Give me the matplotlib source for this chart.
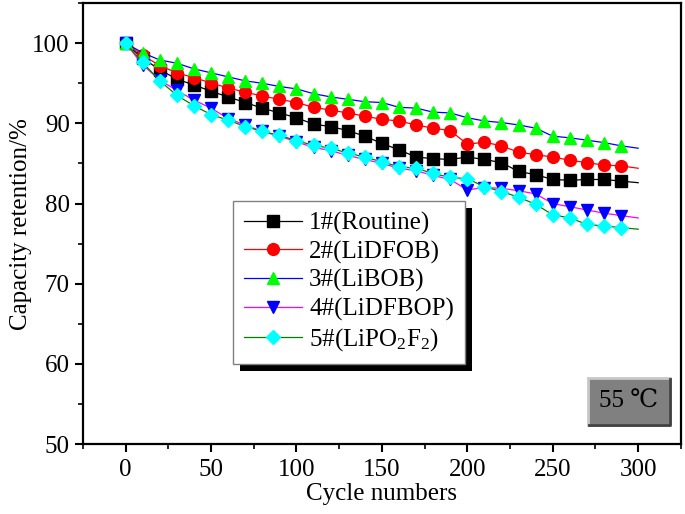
import numpy as np
import matplotlib.pyplot as plt
from matplotlib.patches import Rectangle
from matplotlib.transforms import IdentityTransform

plt.rcParams['font.family'] = ['Liberation Serif', 'DejaVu Serif']
plt.rcParams['mathtext.default'] = 'regular'

cycles = [0, 10, 20, 30, 40, 50, 60, 70, 80, 90, 100, 110, 120, 130, 140, 150,
          160, 170, 180, 190, 200, 210, 220, 230, 240, 250, 260, 270, 280, 290, 300]

routine = [100, 98.1, 96.7, 95.5, 94.8, 94.0, 93.3, 92.6, 91.9, 91.3, 90.7, 89.9, 89.6, 89.1, 88.4, 87.5,
           86.7, 85.8, 85.6, 85.5, 85.8, 85.5, 85.1, 84.0, 83.6, 83.0, 82.9, 83.0, 83.0, 82.8, 82.6]
lidfob = [100, 98.5, 97.2, 96.3, 95.7, 95.05, 94.4, 93.9, 93.4, 93.0, 92.6, 92.0, 91.65, 91.3, 90.9, 90.5,
          90.3, 89.8, 89.4, 89.1, 87.4, 87.65, 87.2, 86.4, 86.1, 85.8, 85.4, 85.1, 84.8, 84.7, 84.4]
libob = [100, 98.8, 97.9, 97.5, 96.8, 96.3, 95.8, 95.3, 95.0, 94.6, 94.3, 93.7, 93.3, 93.0, 92.7, 92.6,
         92.0, 91.9, 91.4, 91.3, 90.7, 90.3, 90.1, 89.8, 89.4, 88.4, 88.2, 87.9, 87.6, 87.2, 86.9]
lidfbop = [100, 97.3, 95.4, 94.1, 92.9, 91.9, 90.6, 89.8, 89.0, 88.4, 87.7, 87.0, 86.6, 86.0, 85.5, 85.0,
           84.4, 84.1, 83.5, 83.0, 81.7, 82.0, 81.9, 81.6, 81.2, 80.0, 79.6, 79.2, 78.8, 78.5, 78.2]
lipo2f2 = [100, 97.6, 95.3, 93.5, 92.2, 91.1, 90.4, 89.6, 89.0, 88.5, 87.85, 87.25, 86.9, 86.3, 85.8, 85.2,
           84.6, 84.4, 83.75, 83.25, 83.1, 82.1, 81.5, 80.8, 79.9, 78.6, 78.2, 77.4, 77.2, 77.0, 76.8]

labels = ['1#(Routine)', '2#(LiDFOB)', '3#(LiBOB)', '4#(LiDFBOP)', '5#(LiPO$_2$F$_2$)']

fig = plt.figure(figsize=(6.85, 5.14), dpi=100)
ax = fig.add_axes([0.121, 0.136, 0.873, 0.858])

styles = [('black', 's', 'black'), ('red', 'o', 'red'), ('blue', '^', '#00ff00'),
          ('magenta', 'v', '#0000ff'), ('#008000', 'D', '#00ffff')]
series = [routine, lidfob, libob, lidfbop, lipo2f2]
mevery = list(range(len(cycles) - 1))
for ys, (lc, mk, mc), lab in zip(series, styles, labels):
    ms = 7.5 if mk == 'D' else 8.5
    ax.plot(cycles, ys, color=lc, lw=0.9, marker=mk, ms=ms, mfc=mc, mec=mc,
            markevery=mevery, label=lab)

ax.set_xlim(-25, 325)
ax.set_ylim(50, 105)
ax.set_xticks(np.arange(0, 301, 50))
ax.set_xticks(np.arange(-25, 326, 25), minor=True)
ax.set_yticks(np.arange(50, 101, 10))
ax.set_yticks(np.arange(50, 106, 5), minor=True)
ax.tick_params(which='major', direction='out', length=6, width=1.5, labelsize=18)
ax.tick_params(axis='x', which='major', pad=5)
ax.tick_params(which='minor', direction='out', length=3.5, width=1.2)
for s in ax.spines.values():
    s.set_linewidth(1.6)

ax.set_xlabel('Cycle numbers', fontsize=18, labelpad=1)
ax.set_ylabel('Capacity retention/%', fontsize=18, labelpad=0)

leg = ax.legend(loc='upper left', bbox_to_anchor=(0.251, 0.552), borderaxespad=0,
                fontsize=18, frameon=True, fancybox=False, framealpha=1,
                edgecolor='#808080', handlelength=2.3, labelspacing=0.22,
                handletextpad=0.3, borderpad=0.45)
leg.get_frame().set_linewidth(1.0)

fig.canvas.draw()
bb = leg.get_window_extent(fig.canvas.get_renderer())
ax.add_patch(Rectangle((bb.x0 + 7, bb.y0 - 7), bb.width, bb.height,
                       transform=IdentityTransform(), fc='black', ec='none',
                       zorder=4.9, clip_on=False))

# temperature box
ax.add_patch(Rectangle((0.845, 0.043), 0.137, 0.107, transform=ax.transAxes,
                       fc='#808080', ec='#c8c8c8', lw=2, zorder=6))
ax.plot([0.847, 0.982, 0.982], [0.043, 0.043, 0.148], transform=ax.transAxes,
        color='#404040', lw=2, zorder=6.5)
ax.text(0.913, 0.096, '55 \u2103', transform=ax.transAxes, ha='center', va='center',
        fontsize=18, color='black', zorder=7)

fig.savefig('out.png', dpi=100)
